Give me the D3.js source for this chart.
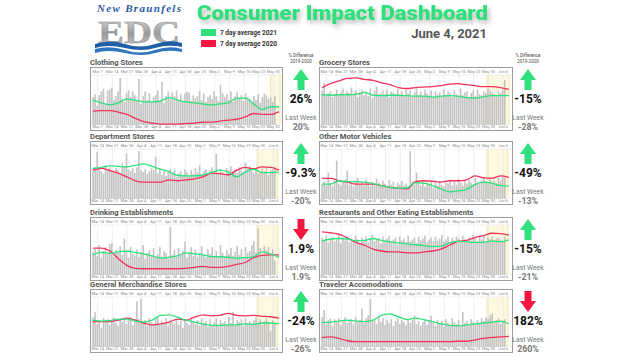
<!DOCTYPE html>
<html><head><meta charset="utf-8">
<script src="https://cdn.jsdelivr.net/npm/d3@7"></script>
<style>body{margin:0;background:#fff;} svg{display:block;font-family:Roboto, "Open Sans", sans-serif;}</style>
</head><body><svg id="c" width="640" height="360"></svg>
<script>
// ---------- DATA ----------
const panelTitles = ["Clothing Stores","Department Stores","Drinking Establishments","General Merchandise Stores",
  "Grocery Stores","Other Motor Vehicles","Restaurants and Other Eating Establishments","Traveler Accomodations"];
const tickLabelsClothing = ["Mar 7","Mar 14","Mar 21","Mar 28","Apr 4","Apr 11","Apr 18","Apr 25","May 2","May 9","May 16","May 23","May 30"];
const tickLabelsOther = ["Mar 14","Mar 21","Mar 28","Apr 4","Apr 11","Apr 18","Apr 25","May 2","May 9","May 16","May 23","May 30","Jun 6"];
const tickDays = [2,9,16,23,30,37,44,51,58,65,72,79,86];
const highlightStart = [85,78.5,78.5,78.5,78.5,78.5,78.5,78.5];
const highlightEnd = [89.5,88.5,88.5,88.5,89,88.5,88.5,88.5];

const pctDiff = ["26%","-9.3%","1.9%","-24%","-15%","-49%","-15%","182%"];
const lastWeek = ["20%","-20%","1.9%","-26%","-28%","-13%","-21%","260%"];
const arrowDir = ["up","up","down","up","up","up","up","down"];

const clothingBars = [58,64,40,62,70,76,45, 72,74,78,52,60,70,98, 55,48,66,72,58,70,62, 50,96,44,60,70,52,66, 48,58,62,72,50,90,46, 60,70,54,68,60,72,52, 64,48,66,70,68,50,62, 56,60,70,52,66,48,58, 62,54,70,60,50,84,66, 58,64,52,70,48,60,68, 56,62,50,66,58,54,48, 60,52,64,46,58,66,62, 54,58,48,60];
const clothing2021 = [52,46,42,46,54,52,48,48,50,57,52,48,46,44,42,44,46,56,56,44,32,38,38];
const clothing2020 = [29,30,30,27,22,14,7,4,2,2,2,3,4,6,6,8,10,12,17,24,22,22,28];

const departmentBars = [60,66,98,64,58,52,70, 62,66,58,56,64,60,52, 74,68,95,62,58,64,54, 66,100,60,56,62,52,58, 64,60,88,54,62,50,58, 48,56,62,52,60,46,54, 58,50,62,56,48,60,52, 64,56,70,50,58,62,54, 60,66,58,94,54,62,56, 52,64,60,68,58,62,54, 66,60,56,76,62,68,58, 54,62,52,56,64,58,66, 50,60,62,68];
const department2021 = [64,66,69,68,67,70,73,68,62,57,49,48,48,50,55,60,56,46,56,62,55,55,56];
const department2020 = [60,64,59,54,46,38,35,35,35,40,38,40,42,46,54,53,50,60,66,63,67,66,60];

const drinkingBars = [48,55,40,62,36,50,58, 44,64,66,38,52,46,60, 42,76,50,36,58,44,40, 54,38,48,62,34,46,52, 40,56,36,44,58,38,50, 46,34,100,42,52,38,56, 44,50,69,36,48,58,40, 52,38,46,60,42,36,54, 44,58,40,50,36,62,46, 38,52,44,56,40,48,60, 42,54,36,58,46,50,62, 70,48,97,56,44,60,52, 58,40,54,30];
const drinking2021 = [42,47,45,48,50,47,44,40,35,37,40,46,44,42,38,38,37,35,36,38,48,44,37];
const drinking2020 = [56,56,50,34,20,14,13,13,13,13,13,14,16,18,16,16,18,22,26,36,41,42,42];

const generalBars = [62,73,48,56,40,60,52, 58,46,54,62,50,44,58, 52,60,48,56,62,46,54, 95,58,100,50,56,44,60, 52,48,58,62,46,54,50, 60,44,56,52,48,58,46, 54,40,58,50,46,62,52, 48,56,44,60,50,54,42, 58,46,52,60,44,56,50, 54,48,62,50,73,46,56, 52,58,44,60,50,54,48, 56,62,50,58,46,54,60, 52,34,56,50];
const general2021 = [56,54,55,58,58,54,52,56,66,67,62,56,52,48,45,45,46,46,48,47,50,50,48];
const general2020 = [53,53,53,56,60,56,50,46,48,52,58,56,62,67,65,66,70,66,65,66,64,63,60];

const groceryBars = [72,88,60,66,70,58,64, 74,62,68,76,60,70,66, 78,64,72,58,68,74,62, 70,60,76,56,72,80,64, 66,72,62,74,58,70,68, 64,76,60,70,62,74,66, 72,58,68,76,62,70,60, 74,66,62,72,58,70,64, 68,60,74,62,70,66,58, 72,64,60,76,62,68,70, 58,66,72,60,74,64,62, 70,66,76,72,68,64,60, 70,66,74,94];
const grocery2021 = [63,62,63,63,64,68,62,61,62,62,61,60,60,58,60,61,60,57,56,59,61,61,61];
const grocery2020 = [78,86,92,97,98,95,93,88,84,78,76,78,79,80,82,85,86,84,82,80,80,78,74];

const otherMotorBars = [30,36,28,55,34,26,38, 80,32,28,36,40,59,30, 34,26,38,44,30,36,28, 40,32,26,36,30,42,34, 28,38,32,26,40,30,36, 24,34,30,38,28,32,26, 100,36,30,55,34,28,38, 26,32,30,36,24,34,28, 38,30,26,34,32,40,28, 36,30,42,34,28,38,32, 40,34,30,44,36,32,38, 46,38,34,42,36,40,34, 44,38,46,45];
const otherMotor2021 = [31,31,38,36,36,35,32,28,24,22,23,34,33,28,21,15,17,20,30,35,33,28,27];
const otherMotor2020 = [43,43,38,35,31,31,31,28,24,22,21,36,38,37,35,38,38,40,48,44,43,48,45];

const restaurantBars = [78,72,82,68,76,80,70, 74,84,66,78,72,80,68, 76,70,82,74,66,78,72, 80,68,76,84,70,74,78, 66,80,72,76,82,70,74, 78,64,80,72,76,68,82, 70,74,78,66,80,72,76, 82,68,74,78,70,80,72, 76,84,70,74,80,68,78, 72,80,76,70,82,74,68, 78,72,84,76,70,80,74, 82,68,78,74,80,72,76, 78,74,70,80];
const restaurant2021 = [71,75,76,75,71,72,76,72,69,67,65,63,61,59,60,67,70,69,68,68,71,69,73];
const restaurant2020 = [90,88,85,77,68,62,54,50,48,48,46,46,48,50,54,62,70,72,78,82,87,86,83];

const travelerBars = [62,77,48,56,60,44,58, 52,60,46,56,62,50,54, 58,48,62,52,56,80,50, 60,66,100,54,58,48,62, 52,60,46,56,50,58,44, 54,60,48,56,52,46,58, 50,56,65,48,54,44,52, 58,46,54,65,50,44,56, 48,54,42,58,50,46,60, 52,48,56,44,73,50,54, 46,58,52,48,56,50,60, 54,62,58,66,70,52,56, 60,48,54,58];
const traveler2021 = [51,52,54,56,54,53,56,66,69,63,57,60,57,53,48,45,44,46,48,50,52,54,48];
const traveler2020 = [20,21,18,13,11,11,11,11,11,11,11,11,11,11,11,11,12,12,15,18,20,21,22];

const legendLabels = ["7 day average 2021","7 day average 2020"];

// ---------- TABLE ----------
const bars = [clothingBars,departmentBars,drinkingBars,generalBars,groceryBars,otherMotorBars,restaurantBars,travelerBars];
const l2021 = [clothing2021,department2021,drinking2021,general2021,grocery2021,otherMotor2021,restaurant2021,traveler2021];
const l2020 = [clothing2020,department2020,drinking2020,general2020,grocery2020,otherMotor2020,restaurant2020,traveler2020];

const GREEN = "#2fe07b", RED = "#f5325a", BAR = "#c3c3c3";
const svg = d3.select("#c");
const defs = svg.append("defs");
const g1 = defs.append("linearGradient").attr("id","edc").attr("x1",0).attr("y1",0).attr("x2",0).attr("y2",1);
g1.append("stop").attr("offset","0%").attr("stop-color","#e2e2e2");
g1.append("stop").attr("offset","55%").attr("stop-color","#9a9a9a");
g1.append("stop").attr("offset","100%").attr("stop-color","#d0d0d0");
const f = defs.append("filter").attr("id","sh").attr("x","-10%").attr("y","-30%").attr("width","130%").attr("height","180%");
f.append("feDropShadow").attr("dx",2).attr("dy",3).attr("stdDeviation",2.5).attr("flood-color","#777").attr("flood-opacity",0.55);

// ---------- HEADER ----------
const logo = svg.append("g");
logo.append("text").attr("x",97).attr("y",12).attr("font-family","'Liberation Serif', serif").attr("font-style","italic")
  .attr("font-weight","bold").attr("font-size",11).attr("fill","#2a5aa8").attr("textLength",84).text("New Braunfels");
logo.append("text").attr("x",98).attr("y",43).attr("font-family","'Liberation Serif', serif").attr("font-weight","bold")
  .attr("font-size",32).attr("fill","url(#edc)").attr("stroke","#8a8a8a").attr("stroke-width",0.4).attr("textLength",82).attr("lengthAdjust","spacingAndGlyphs").text("EDC");
logo.append("path").attr("d","M95,44 Q110,39 125,44 T155,44 T182,43 L182,47 Q168,44 155,48 T125,48 T95,48 Z").attr("fill","#1f5fa8");
logo.append("path").attr("d","M95,49 Q110,45 125,50 T155,50 T182,49 L182,52 Q168,49 155,53 T125,53 T95,53 Z").attr("fill","#2d75bd");

svg.append("text").attr("x",197).attr("y",20).attr("font-family","Roboto").attr("font-weight",900).attr("font-size",20)
  .attr("fill",GREEN).attr("filter","url(#sh)").attr("textLength",291).attr("lengthAdjust","spacingAndGlyphs").text("Consumer Impact Dashboard");
[GREEN,"#ff1744"].forEach((c,i)=>{
  svg.append("rect").attr("x",201).attr("y",29+i*11).attr("width",15).attr("height",7).attr("fill",c);
  svg.append("text").attr("x",220).attr("y",35+i*11).attr("font-size",6.5).attr("font-weight",700).attr("fill","#333").text(legendLabels[i]);
});
svg.append("text").attr("x",487).attr("y",38).attr("text-anchor","end").attr("font-size",13).attr("font-weight",700).attr("fill","#555").text("June 4, 2021");

// ---------- PANELS ----------
const rowTops = [67,141,217,289];
const H = 63;
[0,1].forEach(col=>{
  const cx = col===0 ? 301 : 528;
  svg.append("text").attr("x",cx).attr("y",57).attr("text-anchor","middle").attr("font-size",4.5).attr("fill","#444").text("% Difference");
  svg.append("text").attr("x",cx).attr("y",63).attr("text-anchor","middle").attr("font-size",4.5).attr("fill","#444").text("2019-2020");
});

panelTitles.forEach((title,k)=>{
  const col = k<4?0:1, row = k%4;
  const x0 = col===0 ? 90 : 319, W = col===0 ? 192 : 193, top = rowTops[row];
  const g = svg.append("g");
  g.append("text").attr("x",x0).attr("y",top-2.5).attr("font-size",7.6).attr("font-weight",700).attr("fill","#555").text(title);
  g.append("rect").attr("x",x0+0.5).attr("y",top+0.5).attr("width",W).attr("height",H).attr("fill","#fff").attr("stroke","#9c9c9c").attr("stroke-width",1);
  const xS = d3.scaleLinear().domain([0,89]).range([x0+3,x0+W-3]);
  const yS = d3.scaleLinear().domain([0,100]).range([top+58,top+10]);
  const pTop = top+8, pBot = top+H-6;
  // highlight
  g.append("rect").attr("x",xS(highlightStart[k])).attr("y",pTop).attr("width",xS(highlightEnd[k])-xS(highlightStart[k])).attr("height",pBot-pTop)
    .attr("fill","#fdf8e0");
  [highlightStart[k],highlightEnd[k]].forEach(d=>g.append("line").attr("x1",xS(d)).attr("x2",xS(d)).attr("y1",pTop).attr("y2",pBot).attr("stroke","#f1df98").attr("stroke-width",0.8));
  const labels = k===0 ? tickLabelsClothing : tickLabelsOther;
  // grid
  const grid = g.append("g").attr("transform",`translate(0,${pBot})`)
    .call(d3.axisBottom(xS).tickValues(tickDays).tickSize(-(pBot-pTop)).tickFormat(""));
  grid.select(".domain").remove();
  grid.selectAll("line").attr("stroke","#e4e4e4").attr("stroke-width",0.6);
  g.append("line").attr("x1",x0+1).attr("x2",x0+W).attr("y1",pTop).attr("y2",pTop).attr("stroke","#e4e4e4").attr("stroke-width",0.6);
  g.append("line").attr("x1",x0+1).attr("x2",x0+W).attr("y1",pBot).attr("y2",pBot).attr("stroke","#e4e4e4").attr("stroke-width",0.6);
  const axT = g.append("g").attr("transform",`translate(0,${top+7})`)
    .call(d3.axisTop(xS).tickValues(tickDays).tickSize(0).tickPadding(1).tickFormat((d,i)=>labels[i]));
  const axB = g.append("g").attr("transform",`translate(0,${pBot})`)
    .call(d3.axisBottom(xS).tickValues(tickDays).tickSize(0).tickPadding(1.2).tickFormat((d,i)=>labels[i]));
  [axT,axB].forEach(a=>{a.select(".domain").remove(); a.selectAll("text").attr("font-size",4).attr("fill","#888").attr("font-family","Roboto");});
  // bars
  g.selectAll(".b").data(bars[k]).join("rect").attr("x",(d,i)=>xS(i)-0.8).attr("width",1.6)
    .attr("y",d=>yS(d)).attr("height",d=>yS(0)-yS(d)).attr("fill",BAR);
  // lines
  const n = l2021[k].length;
  const line = d3.line().x((d,i)=>xS(i*89/(n-1))).y(d=>yS(d)).curve(d3.curveMonotoneX);
  g.append("path").attr("d",line(l2020[k])).attr("fill","none").attr("stroke",RED).attr("stroke-width",1.3);
  g.append("path").attr("d",line(l2021[k])).attr("fill","none").attr("stroke",GREEN).attr("stroke-width",1.3);

  // stats
  const cx = col===0 ? 301 : 528;
  const up = arrowDir[k]==="up";
  const ay = top+2, ah = 21;
  const pts = up
    ? [[cx,ay],[cx+8,ay+11],[cx+3.5,ay+11],[cx+3.5,ay+ah],[cx-3.5,ay+ah],[cx-3.5,ay+11],[cx-8,ay+11]]
    : [[cx,ay+ah],[cx+8,ay+ah-11],[cx+3.5,ay+ah-11],[cx+3.5,ay],[cx-3.5,ay],[cx-3.5,ay+ah-11],[cx-8,ay+ah-11]];
  g.append("path").attr("d","M"+pts.map(p=>p.join(",")).join("L")+"Z").attr("fill",up?GREEN:"#f5173f");
  g.append("text").attr("x",cx).attr("y",top+36).attr("text-anchor","middle").attr("font-size",12).attr("font-weight",700).attr("fill","#111").text(pctDiff[k]);
  g.append("text").attr("x",cx).attr("y",top+53).attr("text-anchor","middle").attr("font-size",6.8).attr("fill","#777").text("Last Week");
  g.append("text").attr("x",cx).attr("y",top+63).attr("text-anchor","middle").attr("font-size",8.8).attr("font-weight",700).attr("fill","#777").text(lastWeek[k]);
});
</script></body></html>
